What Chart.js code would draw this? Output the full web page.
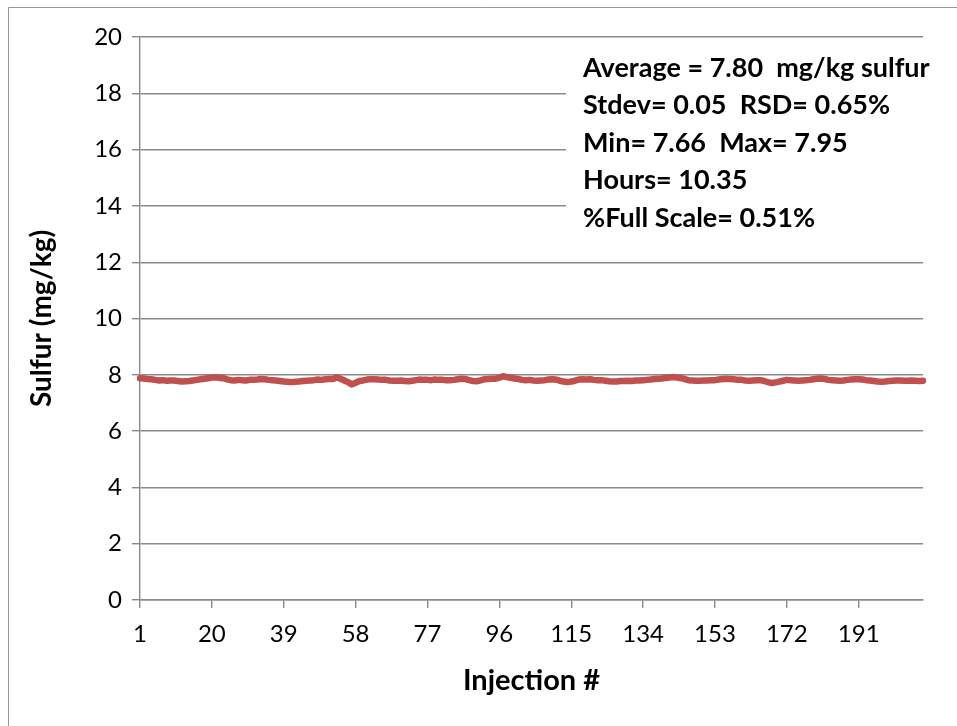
<!DOCTYPE html>
<html>
<head>
<meta charset="utf-8">
<script src="https://cdn.jsdelivr.net/npm/chart.js@4.4.1/dist/chart.umd.min.js"></script>
<style>
  html, body { margin: 0; padding: 0; background: #fff; }
  #wrap { width: 957px; height: 726px; position: relative; }
</style>
</head>
<body>
<div id="wrap"><canvas id="grafico" width="957" height="726"></canvas></div>
<script>
// sulfur reading for each injection (mg/kg)
const sulfur = [
    7.88, 7.87, 7.85, 7.84, 7.82, 7.80, 7.81, 7.79, 7.80, 7.80,
    7.78, 7.76, 7.77, 7.78, 7.80, 7.82, 7.84, 7.86, 7.88, 7.90,
    7.91, 7.89, 7.88, 7.84, 7.81, 7.80, 7.82, 7.81, 7.80, 7.82,
    7.82, 7.83, 7.85, 7.84, 7.82, 7.81, 7.80, 7.78, 7.76, 7.75,
    7.74, 7.75, 7.76, 7.78, 7.79, 7.80, 7.81, 7.83, 7.82, 7.84,
    7.85, 7.85, 7.91, 7.86, 7.80, 7.74, 7.66, 7.72, 7.78, 7.80,
    7.83, 7.84, 7.84, 7.83, 7.82, 7.82, 7.80, 7.79, 7.79, 7.80,
    7.78, 7.77, 7.79, 7.81, 7.83, 7.82, 7.82, 7.81, 7.83, 7.82,
    7.82, 7.81, 7.81, 7.82, 7.84, 7.86, 7.85, 7.81, 7.78, 7.77,
    7.80, 7.84, 7.85, 7.86, 7.86, 7.90, 7.95, 7.92, 7.89, 7.87,
    7.85, 7.82, 7.81, 7.82, 7.80, 7.79, 7.80, 7.81, 7.83, 7.84,
    7.83, 7.79, 7.76, 7.74, 7.76, 7.79, 7.83, 7.84, 7.83, 7.84,
    7.82, 7.81, 7.81, 7.79, 7.77, 7.76, 7.76, 7.78, 7.78, 7.79,
    7.78, 7.80, 7.80, 7.81, 7.82, 7.83, 7.85, 7.86, 7.87, 7.89,
    7.90, 7.92, 7.90, 7.88, 7.85, 7.81, 7.80, 7.79, 7.79, 7.80,
    7.80, 7.81, 7.81, 7.83, 7.85, 7.86, 7.85, 7.84, 7.82, 7.82,
    7.80, 7.79, 7.80, 7.81, 7.81, 7.78, 7.74, 7.71, 7.73, 7.76,
    7.79, 7.82, 7.81, 7.80, 7.79, 7.80, 7.81, 7.82, 7.84, 7.86,
    7.87, 7.85, 7.82, 7.81, 7.80, 7.79, 7.80, 7.82, 7.83, 7.84,
    7.84, 7.83, 7.81, 7.80, 7.78, 7.76, 7.75, 7.76, 7.78, 7.79,
    7.80, 7.80, 7.79, 7.79, 7.80, 7.79, 7.78, 7.79
];

// injection numbers 1..N (categories)
const injecoes = sulfur.map((v, i) => i + 1);

// category labels that are actually printed under the axis
const rotulosX = [1, 20, 39, 58, 77, 96, 115, 134, 153, 172, 191];

// y axis ticks
const rotulosY = [0, 2, 4, 6, 8, 10, 12, 14, 16, 18, 20];

// text box in the upper right
const estatisticas = [
    'Average = 7.80  mg/kg sulfur',
    'Stdev= 0.05  RSD= 0.65%',
    'Min= 7.66  Max= 7.95',
    'Hours= 10.35',
    '%Full Scale= 0.51%'
];

const corGrade = '#8a8a8a';
const fonte = 'Lato, "Open Sans", sans-serif';

Chart.defaults.font.family = fonte;
Chart.defaults.color = '#000';

// frame around the chart + white text box with the stats
const molduraPlugin = {
    id: 'moldura',
    beforeDraw(chart) {
        const c = chart.ctx;
        c.save();
        c.fillStyle = '#fff';
        c.fillRect(0, 0, chart.width, chart.height);
        c.strokeStyle = '#9a9a9a';
        c.lineWidth = 1;
        c.beginPath();
        c.moveTo(8.5, chart.height);
        c.lineTo(8.5, 7.5);
        c.lineTo(chart.width, 7.5);
        c.stroke();
        c.restore();
    },
    afterDraw(chart) {
        const c = chart.ctx;
        c.save();
        c.fillStyle = '#fff';
        c.fillRect(566, 47, 385, 192);
        c.fillStyle = '#000';
        c.font = 'bold 27px ' + fonte;
        c.textBaseline = 'middle';
        c.textAlign = 'left';
        estatisticas.forEach((linha, i) => {
            c.fillText(linha, 583, 68 + i * 37.5);
        });
        c.restore();
    }
};

const ctx = document.getElementById('grafico').getContext('2d');
new Chart(ctx, {
    type: 'line',
    data: {
        labels: injecoes,
        datasets: [{
            label: 'Sulfur',
            data: sulfur,
            borderColor: '#C0504D',
            borderWidth: 6.5,
            pointRadius: 0,
            tension: 0,
            borderJoinStyle: 'round',
            borderCapStyle: 'round'
        }]
    },
    options: {
        responsive: false,
        animation: false,
        devicePixelRatio: 1,
        layout: { padding: { top: 37, right: 34, left: 0, bottom: 0 } },
        plugins: { legend: { display: false }, tooltip: { enabled: false } },
        scales: {
            x: {
                offset: false,
                afterFit: (s) => { s.height = 126; },
                grid: { drawOnChartArea: false, drawTicks: true, tickLength: 8, color: corGrade, lineWidth: 1.4 },
                border: { color: corGrade, width: 1.4 },
                ticks: {
                    autoSkip: false,
                    maxRotation: 0,
                    padding: 12,
                    font: { size: 24 },
                    callback: function (val, idx) {
                        const n = injecoes[idx];
                        return rotulosX.includes(n) ? String(n) : null;
                    }
                },
                title: { display: true, text: 'Injection #', font: { size: 29, weight: 'bold' }, padding: { top: 0, bottom: 28 } }
            },
            y: {
                min: rotulosY[0],
                max: rotulosY[rotulosY.length - 1],
                afterFit: (s) => { s.width = 140; },
                grid: { color: corGrade, lineWidth: 1.4, drawTicks: true, tickLength: 8 },
                border: { color: corGrade, width: 1.4 },
                ticks: { stepSize: 2, padding: 10, font: { size: 24 } },
                title: { display: true, text: 'Sulfur (mg/kg)', font: { size: 28, weight: 'bold' }, padding: { top: 25, bottom: 0 } }
            }
        }
    },
    plugins: [molduraPlugin]
});
</script>
</body>
</html>
